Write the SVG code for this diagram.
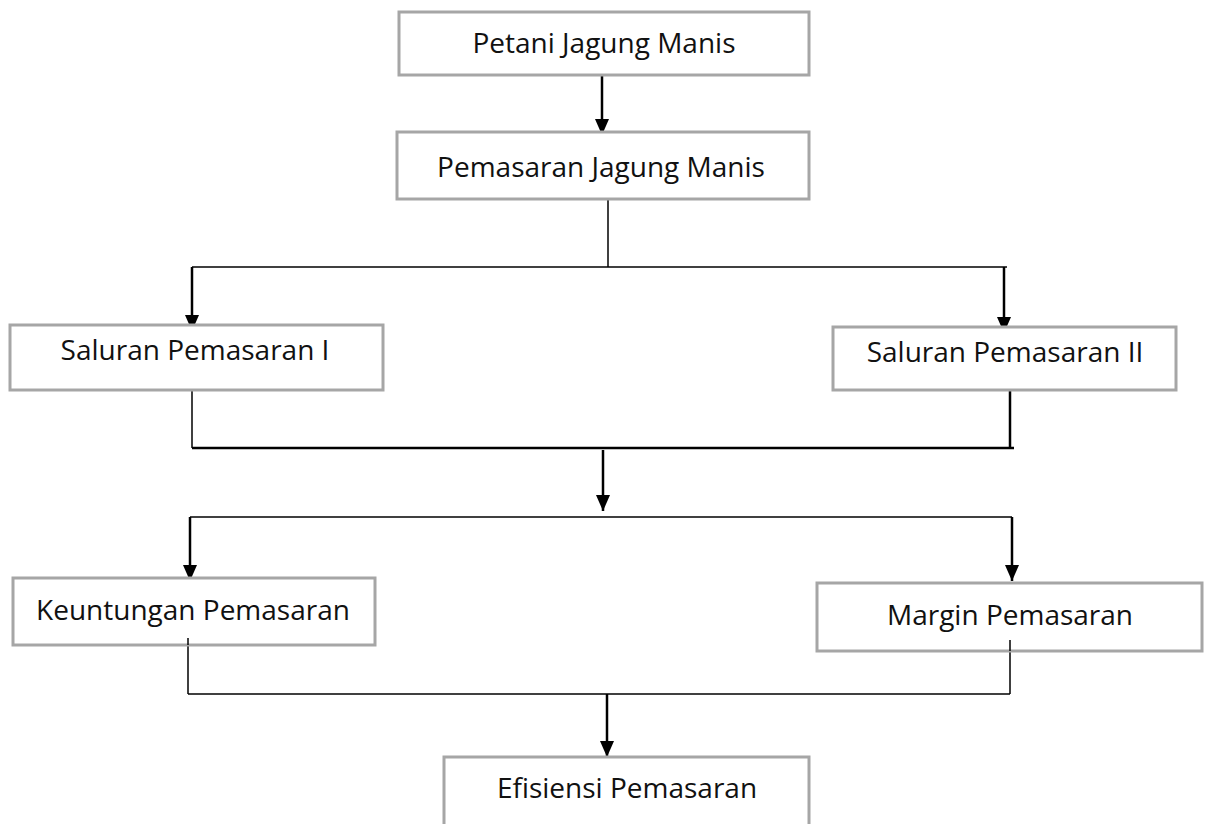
<svg xmlns="http://www.w3.org/2000/svg" width="1210" height="824" viewBox="0 0 1210 824">
<style>
.box{fill:#fff;stroke:#a6a6a6;stroke-width:3}
.t{font-family:"Open Sans",sans-serif;font-size:28px;fill:#111;text-anchor:middle}
.ln{stroke:#000;stroke-width:1.5;fill:none}
.thick{stroke:#000;stroke-width:2.5;fill:none}
.ar{stroke:#000;stroke-width:2.5;fill:none;marker-end:url(#ah)}
</style>
<defs>
<marker id="ah" viewBox="0 0 16 14" refX="16" refY="7" markerWidth="16" markerHeight="14" markerUnits="userSpaceOnUse" orient="auto">
<path d="M0,0 L16,7 L0,14 z" fill="#000"/>
</marker>
</defs>
<rect width="1210" height="824" fill="#fff"/>
<g id="connectors">
<line class="ar" x1="602" y1="75" x2="602" y2="135"/>
<line class="ln" x1="608" y1="200" x2="608" y2="267"/>
<line class="ln" x1="192" y1="267" x2="1007" y2="267"/>
<line class="ar" x1="192" y1="267" x2="192" y2="331"/>
<line class="ar" x1="1004" y1="267" x2="1004" y2="333"/>
<line class="ln" x1="192" y1="390" x2="192" y2="448"/>
<line class="thick" x1="1010" y1="391" x2="1010" y2="448"/>
<line class="thick" x1="192" y1="448" x2="1014" y2="448"/>
<line class="ar" x1="603" y1="450" x2="603" y2="511"/>
<line class="ln" x1="190" y1="517" x2="1012" y2="517"/>
<line class="ar" x1="190" y1="517" x2="190" y2="581"/>
<line class="ar" x1="1012" y1="517" x2="1012" y2="581"/>
<line class="ln" x1="188" y1="638" x2="188" y2="694"/>
<line class="ln" x1="1010" y1="640" x2="1010" y2="694"/>
<line class="ln" x1="188" y1="694" x2="1010" y2="694"/>
<line class="ar" x1="607" y1="694" x2="607" y2="757"/>
</g>
<g id="n1"><rect class="box" x="399" y="12" width="410" height="63"/><text class="t" x="604" y="53">Petani Jagung Manis</text></g>
<g id="n2"><rect class="box" x="397" y="132" width="412" height="67"/><text class="t" x="601" y="177">Pemasaran Jagung Manis</text></g>
<g id="n3"><rect class="box" x="10" y="325" width="373" height="65"/><text class="t" x="195" y="360">Saluran Pemasaran I</text></g>
<g id="n4"><rect class="box" x="833" y="327" width="343" height="63"/><text class="t" x="1005" y="362">Saluran Pemasaran II</text></g>
<g id="n5"><rect class="box" x="13" y="578" width="362" height="67"/><text class="t" x="193" y="620">Keuntungan Pemasaran</text></g>
<g id="n6"><rect class="box" x="817" y="583" width="385" height="68"/><text class="t" x="1010" y="625">Margin Pemasaran</text></g>
<g id="n7"><rect class="box" x="444" y="757" width="365" height="80"/><text class="t" x="627" y="798">Efisiensi Pemasaran</text></g>
<line class="ln" x1="188" y1="638" x2="188" y2="645"/>
<line class="ln" x1="1010" y1="640" x2="1010" y2="651"/>
</svg>
